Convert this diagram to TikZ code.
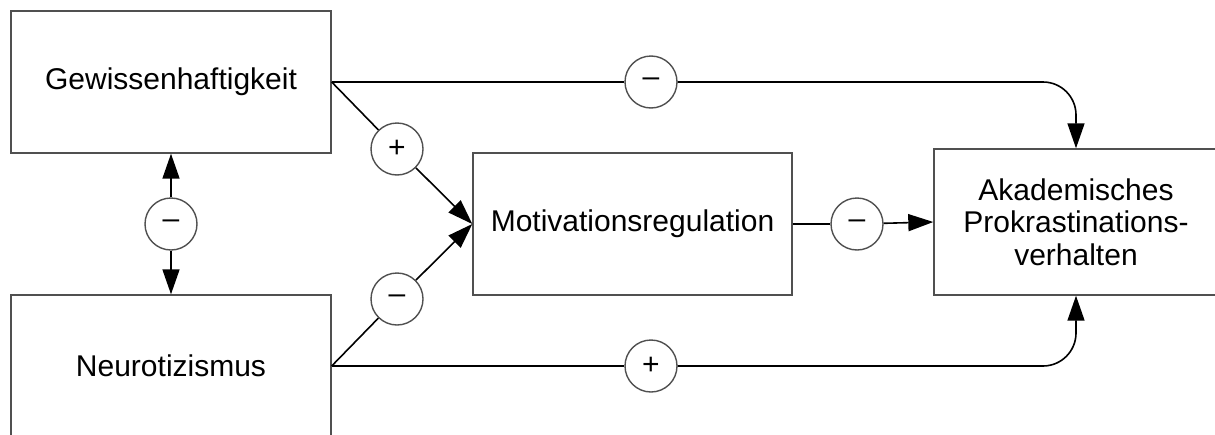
\documentclass[tikz,border=0pt]{standalone}
\usepackage{fontspec}
\setmainfont{Liberation Sans}
\usetikzlibrary{arrows.meta}
\definecolor{boxgray}{HTML}{505050}
\begin{document}
\begin{tikzpicture}[x=1pt,y=-1pt,
  box/.style={draw=boxgray,line width=1.4pt,inner sep=0pt,align=center,
    font=\fontsize{30}{32.5}\selectfont},
  sign/.style={circle,draw=boxgray,line width=1.4pt,minimum size=52pt,inner sep=0pt,
    font=\fontsize{30}{32}\selectfont},
  link/.style={line width=1.6pt,black},
  arr/.style={link,-{Triangle[length=25pt,width=17pt]}},
  darr/.style={link,{Triangle[length=25pt,width=17pt]}-{Triangle[length=25pt,width=17pt]}}]
\useasboundingbox (0,0) rectangle (1215,434);
% variables
\node[box,minimum width=320pt,minimum height=142pt] (G) at (171,82) {Gewissenhaftigkeit};
\node[box,minimum width=320pt,minimum height=142pt] (N) at (171,366) {Neurotizismus};
\node[box,minimum width=319pt,minimum height=142pt] (M) at (632.5,224) {Motivationsregulation};
\node[box,minimum width=284pt,minimum height=146pt] (A) at (1076,222)
  {Akademisches\\Prokrastinations-\\verhalten};
% signs of the effects
\node[sign] (sGN) at (171,224) {–};
\node[sign] (sGM) at (397,149) {+};
\node[sign] (sNM) at (397,299) {–};
\node[sign] (sGA) at (651,82) {–};
\node[sign] (sNA) at (651,366) {+};
\node[sign] (sMA) at (857,224) {–};
% correlation between the two traits
\draw[arr] (sGN) -- (G);
\draw[arr] (sGN) -- (N);
% paths to motivation regulation
\draw[link] (G.east) -- (sGM);
\draw[arr] (sGM) -- (M.west);
\draw[link] (N.east) -- (sNM);
\draw[arr] (sNM) -- (M.west);
% direct paths to procrastination
\draw[link] (G.east) -- (sGA);
\draw[arr,rounded corners=33pt] (sGA.east) -| (A.north);
\draw[link] (N.east) -- (sNA);
\draw[arr,rounded corners=33pt] (sNA.east) -| (A.south);
\draw[link] (M.east) -- (sMA);
\draw[arr] (sMA) -- (A.west);
\end{tikzpicture}
\end{document}
